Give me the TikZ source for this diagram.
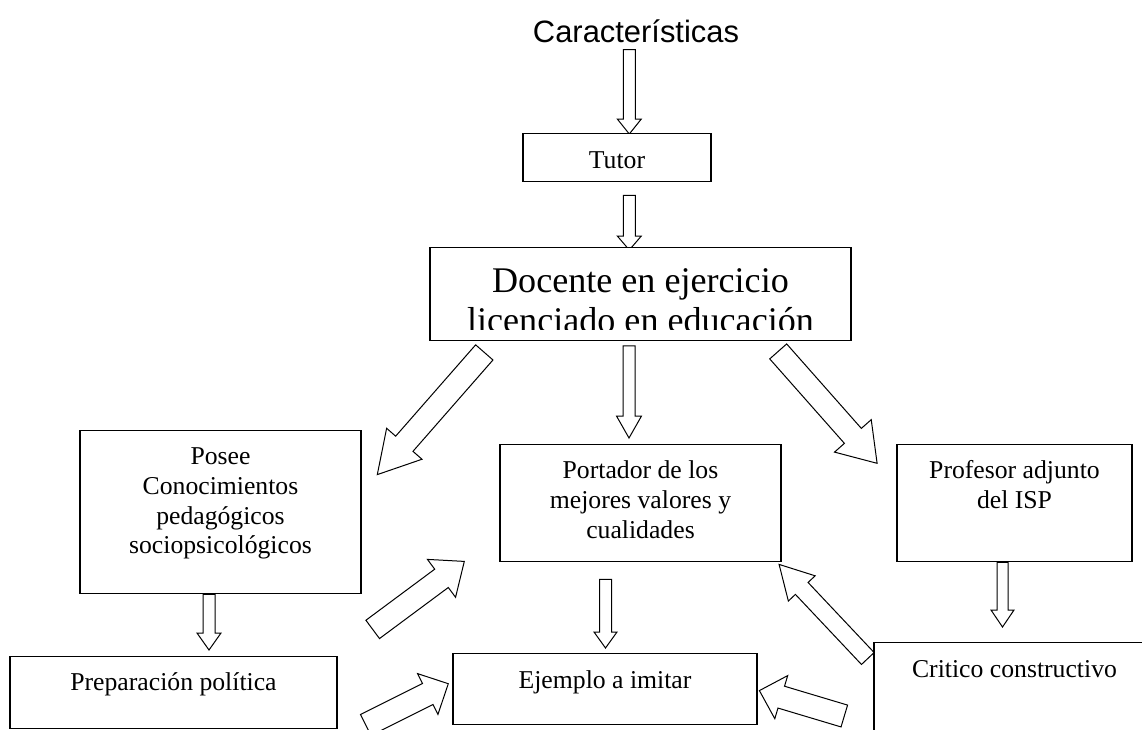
\documentclass[tikz,border=0pt]{standalone}
\usepackage{fontspec}
\setmainfont{Liberation Serif}
\newfontfamily\arialfont{Liberation Sans}
\usepackage{tikz}
\usetikzlibrary{calc,backgrounds}
\newcommand{\boxtext}[4] % {width}{height}{first baseline}{text}
{\parbox[t][#2][t]{#1}{\centering\rule{0pt}{#3}#4}}
\newcommand{\blockarrow}[5] % {from}{to}{half shaft}{half head}{head length}
{
	\coordinate (ba-s) at #1;
	\coordinate (ba-e) at #2;
	\coordinate (ba-h) at ($(ba-e)!#5pt!(ba-s)$);
	\draw [arrowline] ($(ba-s)!#3pt!90:(ba-e)$) -- ($(ba-h)!#3pt!90:(ba-e)$) -- ($(ba-h)!#4pt!90:(ba-e)$) -- (ba-e) -- ($(ba-h)!#4pt!-90:(ba-e)$) -- ($(ba-h)!#3pt!-90:(ba-e)$) -- ($(ba-s)!#3pt!-90:(ba-e)$) -- cycle;
}
\tikzset{
	box/.style={draw, fill=white, line width=1.4pt, inner sep=0pt, anchor=north, font=\fontsize{25.7pt}{29.7pt}\selectfont},
	arrowline/.style={draw, fill=white, line width=1pt, line join=miter},
}
\begin{document}
\begin{tikzpicture}[x=1pt,y=-1pt]
	\useasboundingbox (0,0) rectangle (1142,729);
	\clip (0,0) rectangle (1142,729);

	\node[anchor=base, inner sep=0pt, font=\arialfont\fontsize{30.9pt}{36pt}\selectfont] (caract) at (636,42) {Características};

	\node[box] (tutor) at (617,133) {\boxtext{188pt}{47.5pt}{34.5pt}{Tutor}};

	\node[box, minimum width=421pt, minimum height=92.5pt] (docente) at (640.5,247) {};
	\begin{scope}
		\clip (docente.north west) rectangle ($(docente.south east)+(0,-11)$);
		\node[anchor=north, inner sep=0pt, font=\fontsize{36.1pt}{40pt}\selectfont] (docentetext) at (docente.north) {\boxtext{421pt}{92.5pt}{45pt}{Docente en ejercicio\\licenciado en educación}};
	\end{scope}

	\node[box] (posee) at (220.5,430) {\boxtext{281pt}{163pt}{34pt}{Posee\\Conocimientos\\pedagógicos\\sociopsicológicos}};
	\node[box] (portador) at (640.5,444) {\boxtext{281pt}{117pt}{34pt}{Portador de los\\mejores valores y\\cualidades}};
	\node[box] (profesor) at (1014.5,444) {\boxtext{235pt}{117pt}{34pt}{Profesor adjunto\\del ISP}};
	\node[box] (preparacion) at (173.5,656) {\boxtext{327pt}{72pt}{34pt}{Preparación política}};
	\node[box] (ejemplo) at (605,653) {\boxtext{304pt}{71pt}{35pt}{Ejemplo a imitar}};
	\node[box] (critico) at (1014.5,642) {\boxtext{281pt}{117pt}{35pt}{Critico constructivo}};

	\begin{pgfonlayer}{background}
		\clip (0,0) rectangle (1142,729);
		\blockarrow{($(caract.south)+(-6.7,7)$)}{($(tutor.north)+(12.3,1)$)}{6}{12}{15}
		\blockarrow{($(tutor.south)+(12.3,13.5)$)}{($(docente.north)+(-11.2,3)$)}{6}{12}{14}
		\blockarrow{($(docente.south west)+(55,11.5)$)}{($(posee.north east)+(15.6,44.6)$)}{11.5}{23.5}{41}
		\blockarrow{($(docente.south)+(-11.5,5)$)}{($(portador.north)+(-11.5,-6)$)}{6}{12.5}{22}
		\blockarrow{($(docente.south east)+(-73.5,10.5)$)}{($(profesor.north west)+(-19.2,19.3)$)}{11.3}{24.5}{36.6}
		\blockarrow{($(posee.south)+(-11.5,0)$)}{($(preparacion.north)+(35.5,-6)$)}{6}{12}{17}
		\blockarrow{($(posee.south east)+(11,35)$)}{($(portador.south west)+(-35,-1)$)}{11.4}{23.6}{28.4}
		\blockarrow{($(preparacion.south east)+(28,-4.4)$)}{($(ejemplo.west)+(-4,-5.5)$)}{11.7}{22.8}{23}
		\blockarrow{($(portador.south)+(-35,17)$)}{($(ejemplo.north)+(0.5,-5)$)}{6}{11.5}{16}
		\blockarrow{($(profesor.south)+(-12,0)$)}{($(critico.north)+(-12,-15)$)}{5.5}{11.5}{17}
		\blockarrow{($(critico.north west)+(-5.5,16.5)$)}{($(portador.south east)+(-2.6,2)$)}{8.7}{18.4}{33}
		\blockarrow{($(critico.north west)+(-29,74)$)}{($(ejemplo.east)+(1.7,1.4)$)}{11.4}{22.5}{22.8}
	\end{pgfonlayer}
\end{tikzpicture}
\end{document}
